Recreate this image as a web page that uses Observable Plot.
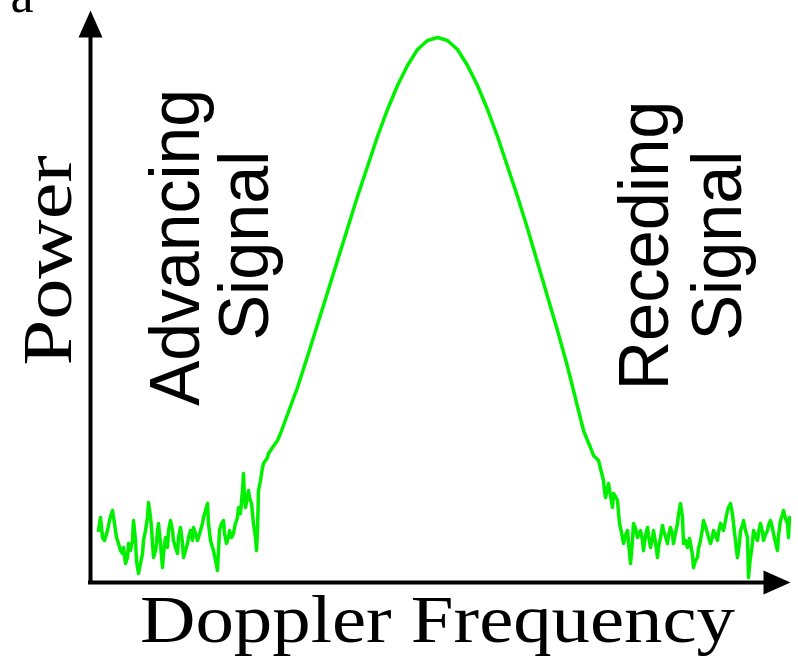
<!DOCTYPE html>
<html>
<head>
<meta charset="utf-8">
<script src="https://cdn.jsdelivr.net/npm/d3@7"></script>
<script src="https://cdn.jsdelivr.net/npm/@observablehq/plot@0.6"></script>
<style>
  html, body { margin: 0; padding: 0; background: #fff; overflow: hidden; }
</style>
</head>
<body>
<div id="chart"></div>
<script>
// ---- Data (arbitrary Doppler-frequency units, arbitrary power units) ----
const leftNoiseFreq = [-339,-337,-335,-333,-330,-328,-326,-325,-323,-321,
  -319,-317,-315,-314,-312,-310,-309,-307,-305,-304,
  -302,-301,-300,-299,-297,-295,-294,-292,-290,-289,
  -287,-286,-285,-284,-282,-281,-280,-279,-277,-275,
  -274,-272,-270,-269,-267,-265,-264,-262,-260,-259,
  -257,-255,-254,-252,-250,-249,-247,-245,-244,-242,
  -240,-239,-237,-235,-234,-232,-230,-229,-227,-225,
  -224,-222,-220,-219,-218,-216,-214,-213,-211,-209,
  -208,-206,-204,-203,-202,-200,-199,-197,-195,-194,
  -193,-192,-190,-189,-188,-186,-185,-184,-182,-181,
  -180,-179,-177,-175,-174,-172,-170,-169,-165,-160,-157];
const leftNoisePower = [50,63,43,40,50,60,67,70,57,43,
  37,30,27,33,17,23,37,30,40,60,
  40,20,13,7,17,27,40,50,63,78,
  63,53,37,23,30,37,50,57,37,13,
  27,43,33,50,60,50,40,33,27,43,
  53,37,23,30,37,43,50,40,53,47,
  40,43,50,57,63,70,77,57,40,33,
  30,20,10,30,50,57,60,47,37,43,
  50,43,47,53,57,63,73,67,90,107,
  83,73,83,90,83,77,67,57,43,30,
  50,90,100,113,117,120,123,127,133,140,147];

const peakFreq = [-150,-140,-130,-120,-110,-100,-90,-80,-70,-60,-50,-40,-30,-20,-10,
  0,10,20,30,40,50,60,70,80,90,100,110,120,130,140];
const peakPower = [166,193,224,256,288,320,352,384,414,444,471,495,515,531,540,
  543,540,531,515,495,471,444,414,384,352,318,284,250,214,174];

const rightNoiseFreq = [146,150,153,156,159,161,163,164,166,167,
  168,170,171,173,175,176,178,180,181,182,
  184,185,186,188,190,191,193,195,196,198,
  200,202,203,205,206,208,210,211,213,215,
  216,218,220,221,223,225,226,228,230,231,
  233,235,236,238,240,241,243,244,245,246,
  248,250,252,253,255,256,258,260,261,263,
  265,266,268,270,272,273,275,276,278,280,
  281,283,285,286,288,290,291,293,295,296,
  297,298,299,300,302,303,305,306,308,310,
  311,312,313,315,316,318,320,321,323,325,
  326,328,330,331,333,335,336,338,340,341,
  343,345,346,348,350,351,352];
const rightNoisePower = [150,140,133,125,122,120,112,108,100,90,
  83,92,97,85,73,87,84,80,68,57,
  48,43,37,45,50,38,17,40,57,52,
  43,48,50,40,30,45,53,45,33,42,
  50,38,23,33,43,55,50,44,37,45,
  53,46,37,48,57,66,77,70,63,37,
  40,33,42,37,25,13,20,23,32,40,
  52,60,54,47,40,37,44,50,45,40,
  48,57,53,50,60,70,73,77,66,57,
  48,40,30,23,38,50,55,60,50,43,
  3,15,23,38,50,45,40,48,57,48,
  40,46,50,55,60,52,47,38,30,45,
  60,66,70,62,57,43,63];

const axisTitles = ["Doppler Frequency", "Power"];
const regionLabels = ["Advancing", "Signal", "Receding", "Signal"];
const panelLetter = "a";

// ---- Build table ----
const frequency = [...leftNoiseFreq, ...peakFreq, ...rightNoiseFreq];
const power = [...leftNoisePower, ...peakPower, ...rightNoisePower];
const spectrum = frequency.map((f, i) => ({f, p: power[i]}));

const xDomain = [-347, 353];
const yDomain = [-2, 570];

// filled arrowhead symbol (tip at origin, pointing up)
const arrowHead = {
  draw(ctx) {
    ctx.moveTo(0, 0);
    ctx.lineTo(-12, 27);
    ctx.lineTo(12, 27);
    ctx.closePath();
  }
};

const serif = "Liberation Serif, Times New Roman, serif";
const sans = "Liberation Sans, Arial, sans-serif";

const chart = Plot.plot({
  width: 798,
  height: 659,
  marginLeft: 90,
  marginRight: 8,
  marginTop: 10,
  marginBottom: 77,
  x: {domain: xDomain, axis: null},
  y: {domain: yDomain, axis: null},
  style: {background: "white"},
  marks: [
    Plot.line(spectrum, {x: "f", y: "p", stroke: "#00f000", strokeWidth: 3.5, strokeLinejoin: "round", strokeLinecap: "round"}),
    // axes
    Plot.ruleX([xDomain[0]], {y1: -4, y2: 545, stroke: "black", strokeWidth: 4}),
    Plot.ruleY([yDomain[0]], {x1: -349, x2: 330, stroke: "black", strokeWidth: 4}),
    Plot.dot([{f: xDomain[0], p: yDomain[1]}], {x: "f", y: "p", symbol: arrowHead, fill: "black", stroke: "none"}),
    Plot.dot([{f: xDomain[1], p: yDomain[0]}], {x: "f", y: "p", symbol: arrowHead, fill: "black", stroke: "none", rotate: 90}),
    // axis titles
    Plot.text([axisTitles[0]], {x: 0, y: -61, text: d => d, fontFamily: serif, fontSize: 67, textAnchor: "middle", lineAnchor: "bottom", fill: "black"}),
    Plot.text([axisTitles[1]], {x: -367, y: 320, text: d => d, rotate: -90, fontFamily: serif, fontSize: 69, textAnchor: "middle", lineAnchor: "bottom", fill: "black"}),
    // region labels
    Plot.text([regionLabels[0]], {x: -239, y: 333, text: d => d, rotate: -90, fontFamily: sans, fontSize: 70, textAnchor: "middle", lineAnchor: "bottom", fill: "black"}),
    Plot.text([regionLabels[1]], {x: -170, y: 335, text: d => d, rotate: -90, fontFamily: sans, fontSize: 70, textAnchor: "middle", lineAnchor: "bottom", fill: "black"}),
    Plot.text([regionLabels[2]], {x: 230, y: 335, text: d => d, rotate: -90, fontFamily: sans, fontSize: 70, textAnchor: "middle", lineAnchor: "bottom", fill: "black"}),
    Plot.text([regionLabels[3]], {x: 303, y: 335, text: d => d, rotate: -90, fontFamily: sans, fontSize: 70, textAnchor: "middle", lineAnchor: "bottom", fill: "black"}),
    // panel letter (cut off at the top edge, as in the reference)
    Plot.text([panelLetter], {x: -427, y: 569, text: d => d, fontFamily: serif, fontSize: 52, textAnchor: "start", lineAnchor: "bottom", fill: "black"})
  ]
});

// fit text lengths to the reference
const lengths = {"Doppler Frequency": 595, "Power": 210, "Advancing": 317, "Receding": 290, "Signal": 190};
chart.querySelectorAll("text").forEach(t => {
  const L = lengths[t.textContent];
  if (L) {
    t.setAttribute("textLength", L);
    t.setAttribute("lengthAdjust", "spacingAndGlyphs");
  }
});

document.getElementById("chart").appendChild(chart);
</script>
</body>
</html>
